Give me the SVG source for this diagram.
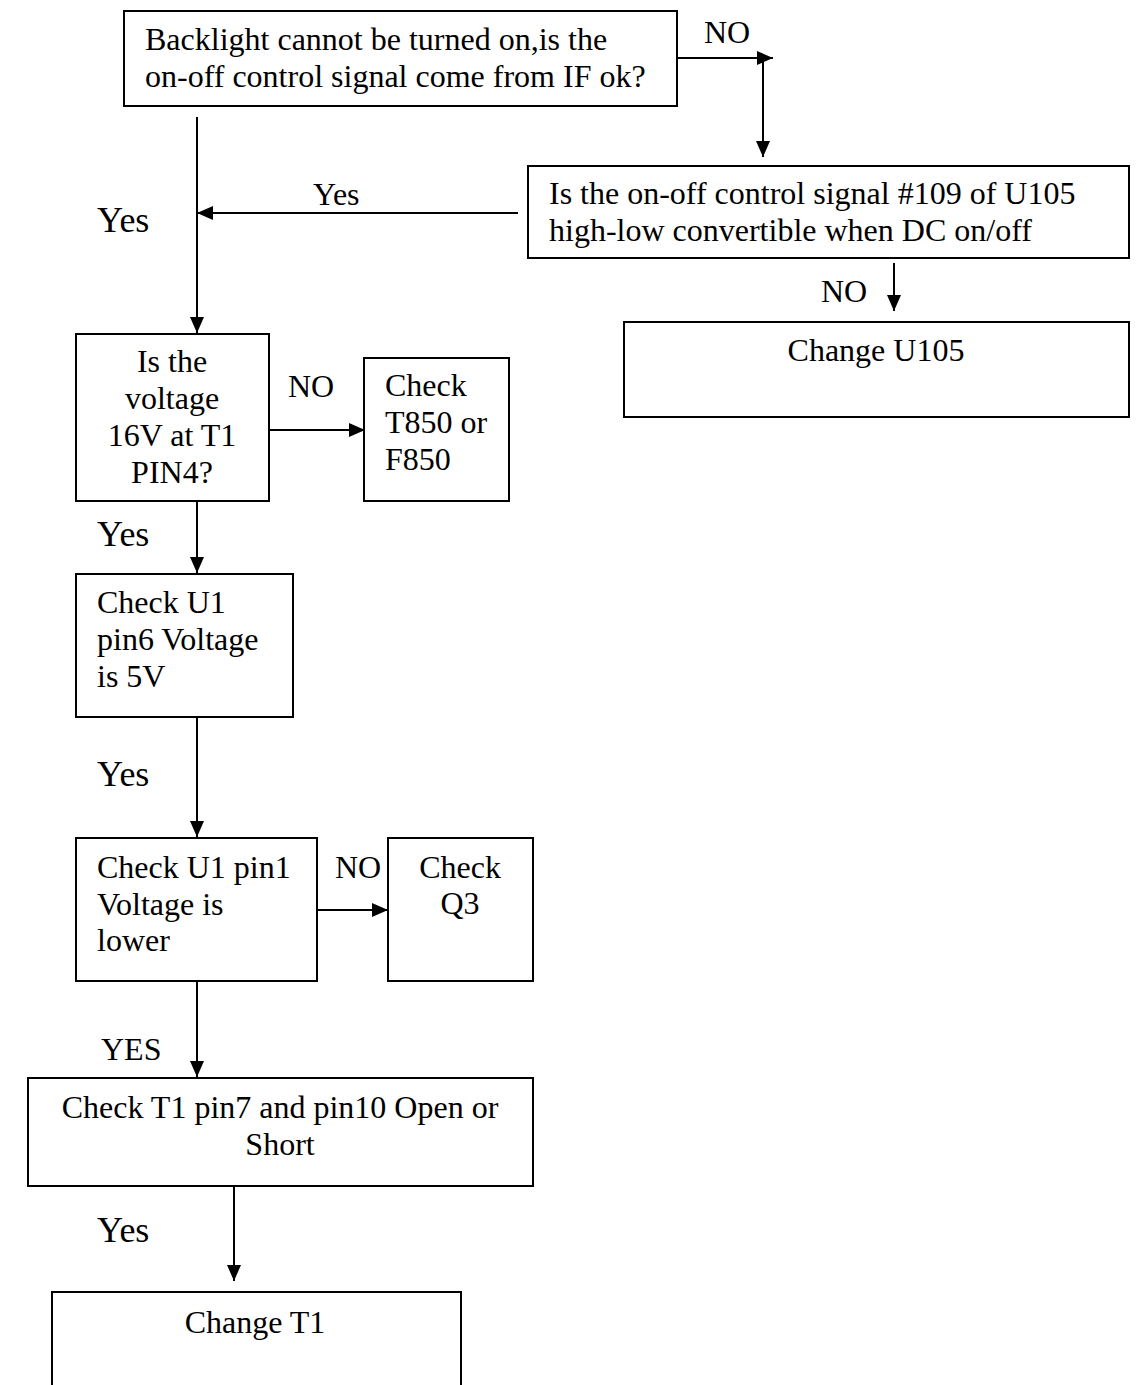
<svg xmlns="http://www.w3.org/2000/svg" width="1142" height="1385" viewBox="0 0 1142 1385">
<style>
.box{fill:#fff;stroke:#000;stroke-width:2}
.ln{fill:none;stroke:#000;stroke-width:2}
text{font-family:"Liberation Serif","Times New Roman",serif;font-size:32px;fill:#000}
.big{font-size:36px}
.c{text-anchor:middle}
</style>
<defs>
<marker id="ah" markerUnits="userSpaceOnUse" markerWidth="16" markerHeight="14" refX="16" refY="7" orient="auto">
<path d="M0,0 L16,7 L0,14 Z" fill="#000"/>
</marker>
</defs>
<rect width="1142" height="1385" fill="#fff"/>
<g id="connectors">
<line class="ln" x1="677" y1="58" x2="773" y2="58" marker-end="url(#ah)"/>
<line class="ln" x1="763" y1="58" x2="763" y2="157" marker-end="url(#ah)"/>
<line class="ln" x1="518" y1="213" x2="197" y2="213" marker-end="url(#ah)"/>
<line class="ln" x1="197" y1="117" x2="197" y2="333" marker-end="url(#ah)"/>
<line class="ln" x1="894" y1="263" x2="894" y2="311" marker-end="url(#ah)"/>
<line class="ln" x1="269" y1="430" x2="365" y2="430" marker-end="url(#ah)"/>
<line class="ln" x1="197" y1="501" x2="197" y2="573" marker-end="url(#ah)"/>
<line class="ln" x1="197" y1="717" x2="197" y2="837" marker-end="url(#ah)"/>
<line class="ln" x1="317" y1="910" x2="388" y2="910" marker-end="url(#ah)"/>
<line class="ln" x1="197" y1="981" x2="197" y2="1077" marker-end="url(#ah)"/>
<line class="ln" x1="234" y1="1186" x2="234" y2="1281" marker-end="url(#ah)"/>
<text x="704" y="43">NO</text>
<text x="313" y="205">Yes</text>
<text class="big" x="97" y="232">Yes</text>
<text x="821" y="302">NO</text>
<text x="288" y="397">NO</text>
<text class="big" x="97" y="546">Yes</text>
<text class="big" x="97" y="786">Yes</text>
<text x="335" y="878">NO</text>
<text x="101" y="1060">YES</text>
<text class="big" x="97" y="1242">Yes</text>
</g>
<g id="n1">
<rect class="box" x="124" y="11" width="553" height="95"/>
<text x="145" y="50">Backlight cannot be turned on,is the</text>
<text x="145" y="87">on-off control signal come from IF ok?</text>
</g>
<g id="n2">
<rect class="box" x="528" y="166" width="601" height="92"/>
<text x="549" y="204">Is the on-off control signal #109 of U105</text>
<text x="549" y="241">high-low convertible when DC on/off</text>
</g>
<g id="n3">
<rect class="box" x="624" y="322" width="505" height="95"/>
<text class="c" x="876" y="361">Change U105</text>
</g>
<g id="n4">
<rect class="box" x="76" y="334" width="193" height="167"/>
<text class="c" x="172" y="372">Is the</text>
<text class="c" x="172" y="409">voltage</text>
<text class="c" x="172" y="446">16V at T1</text>
<text class="c" x="172" y="483">PIN4?</text>
</g>
<g id="n5">
<rect class="box" x="364" y="358" width="145" height="143"/>
<text x="385" y="396">Check</text>
<text x="385" y="433">T850 or</text>
<text x="385" y="470">F850</text>
</g>
<g id="n6">
<rect class="box" x="76" y="574" width="217" height="143"/>
<text x="97" y="613">Check U1</text>
<text x="97" y="650">pin6 Voltage</text>
<text x="97" y="687">is 5V</text>
</g>
<g id="n7">
<rect class="box" x="76" y="838" width="241" height="143"/>
<text x="97" y="878">Check U1 pin1</text>
<text x="97" y="915">Voltage is</text>
<text x="97" y="951">lower</text>
</g>
<g id="n8">
<rect class="box" x="388" y="838" width="145" height="143"/>
<text class="c" x="460" y="878">Check</text>
<text class="c" x="460" y="914">Q3</text>
</g>
<g id="n9">
<rect class="box" x="28" y="1078" width="505" height="108"/>
<text class="c" x="280" y="1118">Check T1 pin7 and pin10 Open or</text>
<text class="c" x="280" y="1155">Short</text>
</g>
<g id="n10">
<path class="ln" d="M52,1392 L52,1292 L461,1292 L461,1392"/>
<text class="c" x="255" y="1333">Change T1</text>
</g>
</svg>
